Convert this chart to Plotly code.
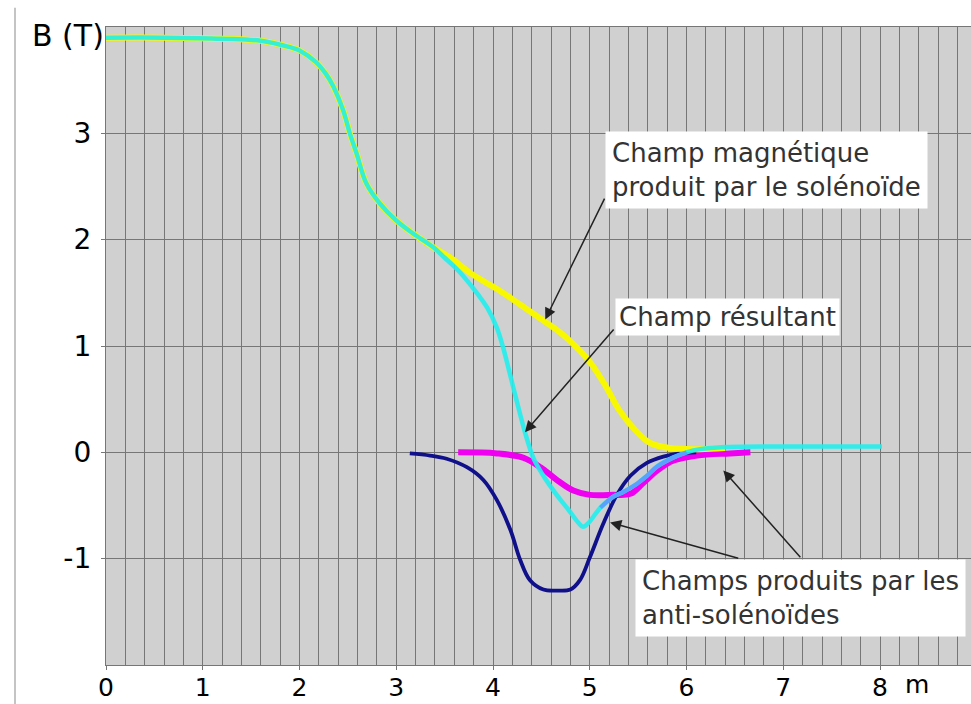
import plotly.graph_objects as go

# Axial position (m) and magnetic field (T)
sol_x = [0.0, 0.6, 1.2, 1.6, 1.9, 2.0, 2.17, 2.28, 2.35, 2.45, 2.52, 2.59, 2.69, 2.83,
         3.00, 3.17, 3.38, 3.56, 3.76, 3.92, 4.07, 4.28, 4.52, 4.69, 4.85, 5.00, 5.16,
         5.31, 5.47, 5.62, 5.83, 6.14, 6.40]
sol_y = [3.90, 3.90, 3.89, 3.87, 3.81, 3.78, 3.67, 3.55, 3.44, 3.22, 3.00, 2.81, 2.53, 2.34,
         2.18, 2.06, 1.93, 1.83, 1.69, 1.60, 1.52, 1.39, 1.24, 1.13, 1.00, 0.85, 0.63,
         0.39, 0.21, 0.09, 0.04, 0.03, 0.04]

res_x = [0.0, 0.6, 1.2, 1.6, 1.9, 2.0, 2.17, 2.28, 2.35, 2.45, 2.52, 2.59, 2.69, 2.83,
         3.00, 3.17, 3.38, 3.50, 3.63, 3.79, 3.94, 4.04, 4.10, 4.16, 4.24, 4.33, 4.42,
         4.52, 4.65, 4.78, 4.88, 4.93, 4.99, 5.11, 5.24, 5.35, 5.48, 5.59, 5.70, 5.86, 6.00,
         6.14, 6.40, 7.00, 8.02]
res_y = [3.90, 3.90, 3.89, 3.87, 3.81, 3.78, 3.67, 3.55, 3.44, 3.22, 3.00, 2.81, 2.53, 2.34,
         2.18, 2.06, 1.93, 1.83, 1.72, 1.55, 1.36, 1.17, 1.00, 0.79, 0.50, 0.19, -0.06,
         -0.22, -0.39, -0.54, -0.66, -0.70, -0.66, -0.52, -0.42, -0.37, -0.30, -0.22, -0.13, -0.05, 0.00,
         0.03, 0.05, 0.055, 0.055]

anti1_x = [3.14, 3.35, 3.52, 3.73, 3.90, 4.04, 4.18, 4.28, 4.38, 4.52, 4.66, 4.80, 4.90,
           5.00, 5.14, 5.28, 5.42, 5.59, 5.76, 5.93, 6.10]
anti1_y = [-0.01, -0.03, -0.06, -0.14, -0.26, -0.45, -0.73, -1.01, -1.20, -1.29, -1.30, -1.29, -1.20,
           -0.99, -0.67, -0.40, -0.22, -0.10, -0.04, -0.01, 0.00]

anti2_x = [3.64, 4.04, 4.31, 4.49, 4.66, 4.83, 5.00, 5.24, 5.42, 5.55, 5.70, 5.86, 6.11, 6.45, 6.66]
anti2_y = [0.00, -0.01, -0.05, -0.14, -0.26, -0.36, -0.40, -0.40, -0.39, -0.29, -0.17, -0.08, -0.03, -0.01, 0.00]

x_ticks = [0, 1, 2, 3, 4, 5, 6, 7, 8]
y_ticks = [-1, 0, 1, 2, 3]

FONT = "DejaVu Sans"
TXT = "#333333"
SMOOTH = 1.0

fig = go.Figure()

fig.add_trace(go.Scatter(x=anti2_x, y=anti2_y, mode="lines",
                         line=dict(color="#f000f0", width=6, shape="spline", smoothing=SMOOTH)))
fig.add_trace(go.Scatter(x=anti1_x, y=anti1_y, mode="lines",
                         line=dict(color="#10108a", width=3.8, shape="spline", smoothing=SMOOTH)))
fig.add_trace(go.Scatter(x=sol_x, y=sol_y, mode="lines",
                         line=dict(color="#f8f800", width=6, shape="spline", smoothing=SMOOTH)))
fig.add_trace(go.Scatter(x=res_x, y=res_y, mode="lines", opacity=0.9,
                         line=dict(color="#22f0ee", width=4.5, shape="spline", smoothing=SMOOTH)))

# the rising part of the resultant field, drawn in a lighter blue
seg = [i for i, v in enumerate(res_x) if 5.11 <= v <= 6.0]
fig.add_trace(go.Scatter(x=[res_x[i] for i in seg], y=[res_y[i] for i in seg], mode="lines",
                         line=dict(color="#5aa0ff", width=4, shape="spline", smoothing=SMOOTH)))

grid = "#767676"
fig.update_layout(
    width=971, height=704,
    margin=dict(l=106, r=0, t=27, b=39),
    paper_bgcolor="white", plot_bgcolor="#d0d0d0",
    showlegend=False,
    font=dict(family=FONT, color="black"),
    xaxis=dict(range=[0, 8.94], tickvals=x_ticks, ticktext=[str(v) for v in x_ticks],
               ticks="outside", ticklen=4, tickcolor=grid, ticklabelstandoff=-4,
               showgrid=True, gridcolor=grid, gridwidth=1.3,
               minor=dict(dtick=0.2, tick0=0, showgrid=True, gridcolor=grid, gridwidth=1.3),
               showline=True, linecolor=grid, linewidth=1.3, mirror=True,
               zeroline=False, tickfont=dict(size=25, family=FONT, color="black")),
    yaxis=dict(range=[-2, 4], tickvals=y_ticks, ticktext=[str(v) for v in y_ticks],
               ticks="outside", ticklen=4, tickcolor=grid, ticklabelstandoff=4,
               showgrid=True, gridcolor=grid, gridwidth=1.3,
               showline=True, linecolor=grid, linewidth=1.3,
               zeroline=False, tickfont=dict(size=28, family=FONT, color="black")),
)

# page rule on the left
fig.add_shape(type="line", xref="paper", yref="paper", x0=-0.1052, x1=-0.1052,
              y0=-0.07, y1=1.03, line=dict(color="#c4c4c4", width=2))

# axis titles
fig.add_annotation(text="B (T)", xref="paper", yref="paper", x=0, y=0.986,
                   xanchor="right", yanchor="middle", showarrow=False,
                   font=dict(size=30, family=FONT, color="black"))
fig.add_annotation(text="m", xref="x", yref="paper", x=8.38, y=-0.031,
                   xanchor="center", yanchor="middle", showarrow=False,
                   font=dict(size=25, family=FONT, color="black"))

# arrows pointing at the curves
arrows = [
    (4.54, 1.25, 5.16, 2.40),
    (4.33, 0.19, 5.26, 1.17),
    (5.21, -0.66, 6.55, -1.00),
    (6.38, -0.17, 7.19, -1.00),
]
for tx, ty, sx, sy in arrows:
    fig.add_annotation(x=tx, y=ty, ax=sx, ay=sy, xref="x", yref="y", axref="x", ayref="y",
                       text="", showarrow=True, arrowhead=2, arrowsize=1.5,
                       arrowwidth=1.5, arrowcolor="#222222")

# labels
labels = [
    ("Champ magnétique<br>produit par le solénoïde", 5.16, 3.02, 6),
    ("Champ résultant", 5.26, 1.45, 3),
    ("Champs produits par les<br>anti-solénoïdes", 5.47, -1.00, 6),
]
for text, lx, ly, pad in labels:
    fig.add_annotation(text=text, x=lx, y=ly, xref="x", yref="y", xanchor="left",
                       yanchor="top", align="left", showarrow=False,
                       bgcolor="white", borderpad=pad,
                       font=dict(size=26, family=FONT, color=TXT))

fig.write_html("out.html")
